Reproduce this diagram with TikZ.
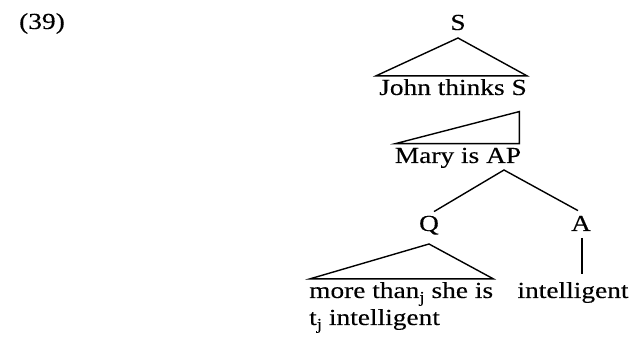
\documentclass[tikz,border=0pt]{standalone}
\usepackage{fontspec}
\setmainfont[FakeStretch=1.19,FakeBold=0.25]{Liberation Serif}
\newcommand{\lowsub}[1]{\raisebox{-4.5pt}{\fontsize{16}{16}\selectfont#1}}

\begin{document}
\begin{tikzpicture}[
  x=1pt,y=-1pt,
  every node/.style={inner sep=0pt,font=\fontsize{23}{27}\selectfont},
  branch/.style={line width=1.4pt,line join=miter}
]
  \useasboundingbox (0,0) rectangle (634,344);

  \node[anchor=base west] (num) at (19,29) {(39)};
  \node[anchor=base] (top) at (458,30) {S};
  \node[anchor=base] (john) at (453,95) {John thinks S};
  \node[anchor=base] (mary) at (458,163) {Mary is AP};
  \node[anchor=base] (q) at (429,231) {Q};
  \node[anchor=base] (a) at (581,231) {A};
  \node[anchor=base west] (more) at (309,298) {more than\lowsub{j} she is};
  \node[anchor=base west] (trace) at (309,325) {t\lowsub{j} intelligent};
  \node[anchor=base] (adj) at (573,298) {intelligent};

  % triangles
  \draw[branch] ([shift={(0,8)}]top.base) -- ([shift={(-3,-3)}]john.north west)
    -- ([shift={(0,-3)}]john.north east) -- cycle;
  \draw[branch] ([shift={(1,-4)}]mary.north west) -- ([shift={(-2,-4)}]mary.north east)
    -- ([shift={(-2,-36)}]mary.north east) -- cycle;
  \draw[branch] ([shift={(0,13)}]q.base) -- ([shift={(1,-3)}]more.north west)
    -- ([shift={(0,-3)}]more.north east) -- cycle;

  % branches
  \draw[branch] ([shift={(5,-4)}]q.north) -- ([shift={(46,7)}]mary.base)
    -- ([shift={(-3,-5)}]a.north);
  \draw[branch] ([shift={(1,7)}]a.base) -- ([shift={(9,-8)}]adj.north);
\end{tikzpicture}
\end{document}
